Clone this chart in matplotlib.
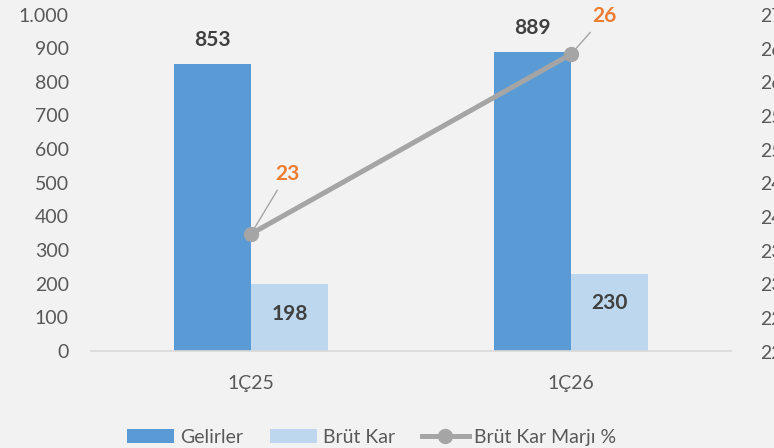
import matplotlib
matplotlib.use("Agg")
import matplotlib.pyplot as plt
from matplotlib.patches import Patch
from matplotlib.lines import Line2D
import numpy as np

categories = ["1Ç25", "1Ç26"]
gelirler = [853, 889]
brut_kar = [198, 230]
marj = [23.74, 26.41]
marj_labels = ["23", "26"]
left_ticks = [0, 100, 200, 300, 400, 500, 600, 700, 800, 900, 1000]
left_tick_labels = ["0", "100", "200", "300", "400", "500", "600", "700", "800", "900", "1.000"]
right_ticks = [22, 22.5, 23, 23.5, 24, 24.5, 25, 25.5, 26, 26.5, 27]
right_tick_labels = ["22,0", "22,5", "23,0", "23,5", "24,0", "24,5", "25,0", "25,5", "26,0", "26,5", "27,0"]

BG = "#F2F2F2"
C_GEL = "#5B9BD5"
C_BRUT = "#BDD7EE"
C_LINE = "#A5A5A5"
C_ORANGE = "#ED7D31"
C_TXT = "#595959"
C_LBL = "#404040"

plt.rcParams['font.family'] = ['Lato', 'DejaVu Sans']

fig = plt.figure(figsize=(7.74, 4.48), dpi=100, facecolor=BG)
ax = fig.add_axes([91/774, 1-351/448, 640/774, (351-14.5)/448])
ax.set_facecolor(BG)

x = np.arange(len(categories))
w = 77/320
ax.bar(x - w/2, gelirler, width=w, color=C_GEL, zorder=2)
ax.bar(x + w/2, brut_kar, width=w, color=C_BRUT, zorder=2)
ax.set_xlim(-0.5, 1.5)
ax.set_ylim(0, 1000)
ax.set_yticks(left_ticks)
ax.set_yticklabels(left_tick_labels)
ax.set_xticks(x)
ax.set_xticklabels(categories)
ax.tick_params(axis='y', length=0, pad=16, labelsize=14, labelcolor=C_TXT)
ax.tick_params(axis='x', length=0, pad=17, labelsize=14, labelcolor=C_TXT)
for s in ['top', 'right', 'left']:
    ax.spines[s].set_visible(False)
ax.spines['bottom'].set_color("#D9D9D9")
ax.spines['bottom'].set_linewidth(1.2)

for xi, v in zip(x, gelirler):
    ax.annotate(str(v), (xi - w/2, v), xytext=(0, 10), textcoords='offset points',
                ha='center', va='bottom', fontsize=15, fontweight='bold', color=C_LBL)
for xi, v in zip(x, brut_kar):
    ax.annotate(str(v), (xi + w/2, v), xytext=(0, -21), textcoords='offset points',
                ha='center', va='center', fontsize=15, fontweight='bold', color=C_LBL)

ax2 = ax.twinx()
ax2.set_ylim(22, 27)
ax2.set_yticks(right_ticks)
ax2.set_yticklabels(right_tick_labels)
ax2.tick_params(axis='y', length=0, pad=21, labelsize=14, labelcolor=C_TXT)
for s in ['top', 'right', 'left', 'bottom']:
    ax2.spines[s].set_visible(False)
ax2.plot(x, marj, color=C_LINE, lw=3.6, marker='o', markersize=10, zorder=3, solid_capstyle='round')

offsets = [(26, 36), (24, 20)]
for xi, v, lab, off in zip(x, marj, marj_labels, offsets):
    ax2.annotate(lab, (xi, v), xytext=off, textcoords='offset points',
                 ha='center', va='bottom', fontsize=15, fontweight='bold', color=C_ORANGE,
                 arrowprops=dict(arrowstyle='-', color=C_LINE, lw=1, shrinkA=3, shrinkB=0))

handles = [Patch(facecolor=C_GEL, edgecolor='none'),
           Patch(facecolor=C_BRUT, edgecolor='none'),
           Line2D([0], [0], color=C_LINE, lw=3.6, marker='o', markersize=10)]
fig.legend(handles, ["Gelirler", "Brüt Kar", "Brüt Kar Marjı %"], loc='center',
           bbox_to_anchor=(372/774, 1-437/448), ncol=3, frameon=False, fontsize=14,
           labelcolor=C_TXT, handlelength=2.4, handleheight=0.7, handletextpad=0.3,
           columnspacing=1.4)

fig.savefig("out.png", dpi=100, facecolor=BG)
